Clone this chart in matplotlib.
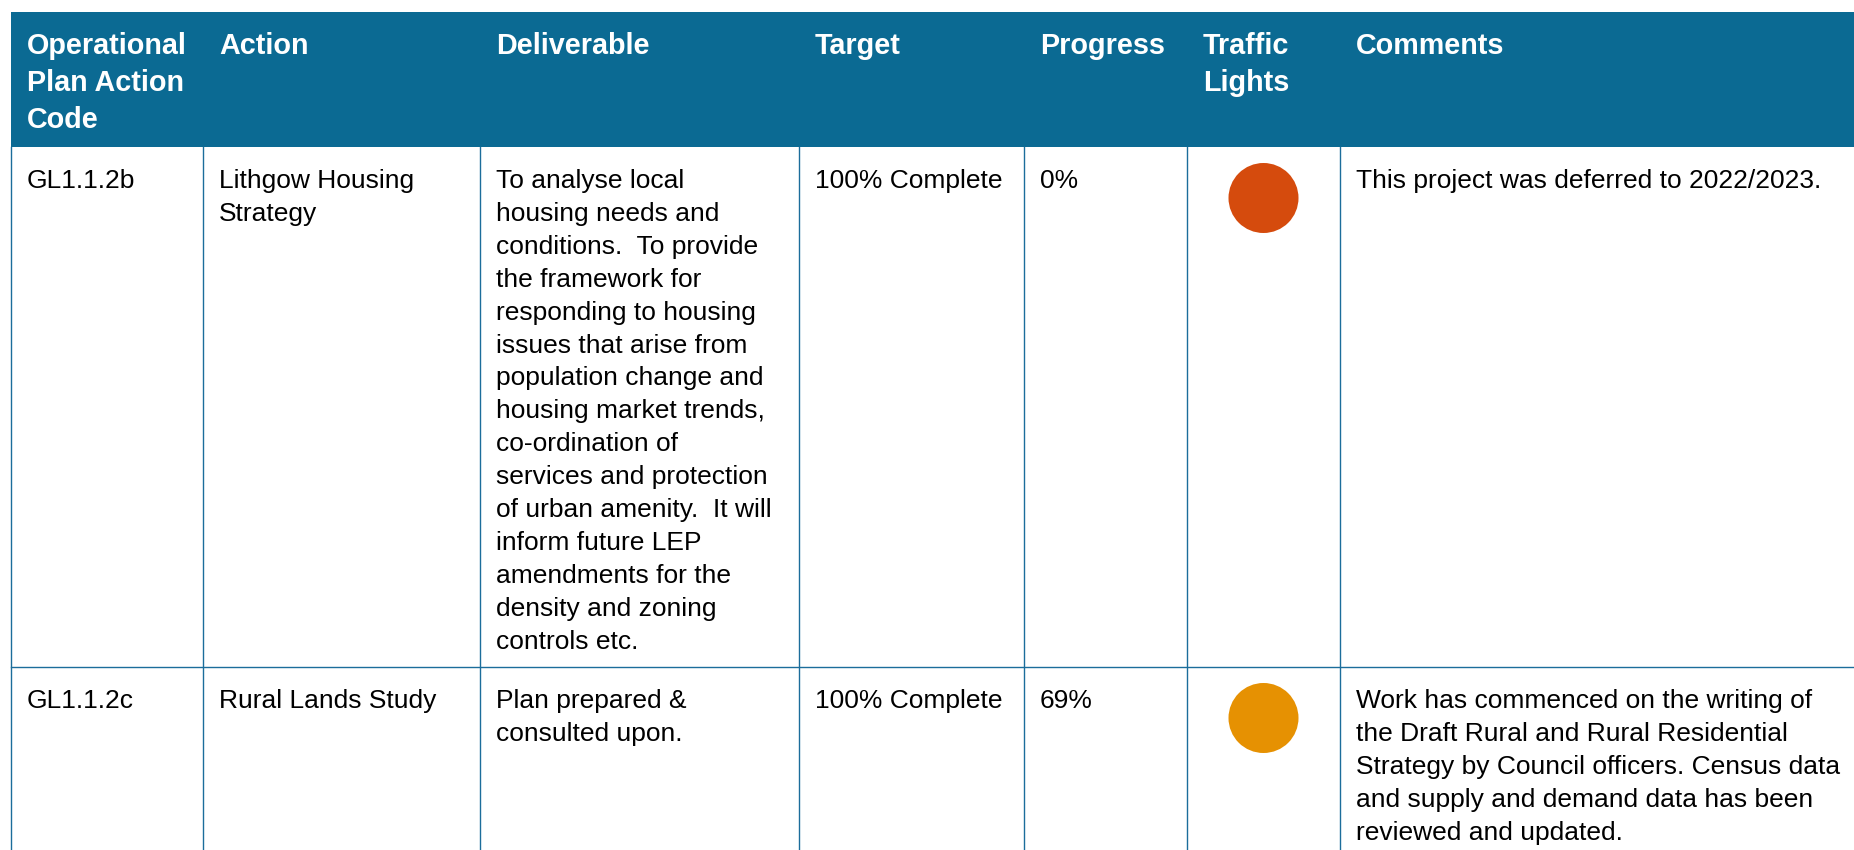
import matplotlib
matplotlib.use("Agg")
from matplotlib import pyplot as plt
from matplotlib.patches import Rectangle, Circle

# table content
headers = ["Operational\nPlan Action\nCode", "Action", "Deliverable", "Target",
           "Progress", "Traffic\nLights", "Comments"]
codes = ["GL1.1.2b", "GL1.1.2c"]
actions = ["Lithgow Housing\nStrategy", "Rural Lands Study"]
deliverables = [
    "To analyse local\nhousing needs and\nconditions.  To provide\nthe framework for\n"
    "responding to housing\nissues that arise from\npopulation change and\n"
    "housing market trends,\nco-ordination of\nservices and protection\n"
    "of urban amenity.  It will\ninform future LEP\namendments for the\n"
    "density and zoning\ncontrols etc.",
    "Plan prepared &\nconsulted upon.",
]
targets = ["100% Complete", "100% Complete"]
progress = ["0%", "69%"]
lights = ["#D54B0D", "#E69102"]
comments = [
    "This project was deferred to 2022/2023.",
    "Work has commenced on the writing of\nthe Draft Rural and Rural Residential\n"
    "Strategy by Council officers. Census data\nand supply and demand data has been\n"
    "reviewed and updated.",
]

# layout (pixels)
W, H = 1854, 850
col_edges = [11, 203, 480, 799, 1024, 1187, 1340, W + 5]
header_top, header_bottom = 12, 147
row_edges = [147, 667, H + 5]
header_color = "#0B6A93"
line_color = "#1B6D9B"
pad_x = 16
head_size, body_size = 20.7, 19
head_step, body_step = 37, 32.9

plt.rcParams['font.family'] = ['Liberation Sans', 'DejaVu Sans']

fig = plt.figure(figsize=(W / 100, H / 100), dpi=100)
ax = fig.add_axes([0, 0, 1, 1])
ax.set_xlim(0, W)
ax.set_ylim(H, 0)
ax.axis('off')

# header band
ax.add_patch(Rectangle((col_edges[0], header_top), W - col_edges[0] + 5,
                       header_bottom - header_top, color=header_color, lw=0))
for i, h in enumerate(headers):
    for k, line in enumerate(h.split("\n")):
        ax.text(col_edges[i] + pad_x, 54 + k * head_step, line, color="white",
                fontsize=head_size, fontweight="bold", va="baseline", ha="left")

# grid lines
for x in col_edges[:-1]:
    ax.plot([x, x], [header_bottom, H + 5], color=line_color, lw=1.0)
for y in row_edges[1:-1]:
    ax.plot([col_edges[0], W + 5], [y, y], color=line_color, lw=1.0)

# rows
for r in range(len(codes)):
    top = row_edges[r]
    base = top + 41
    cells = [codes[r], actions[r], deliverables[r], targets[r], progress[r], None, comments[r]]
    for i, cell in enumerate(cells):
        if cell is None:
            continue
        for k, line in enumerate(cell.split("\n")):
            ax.text(col_edges[i] + pad_x, base + k * body_step, line, color="black",
                    fontsize=body_size, va="baseline", ha="left")
    cx = (col_edges[5] + col_edges[6]) / 2
    ax.add_patch(Circle((cx, top + 51), 35, color=lights[r], lw=0))

fig.savefig("out.png", dpi=100, facecolor="white")
